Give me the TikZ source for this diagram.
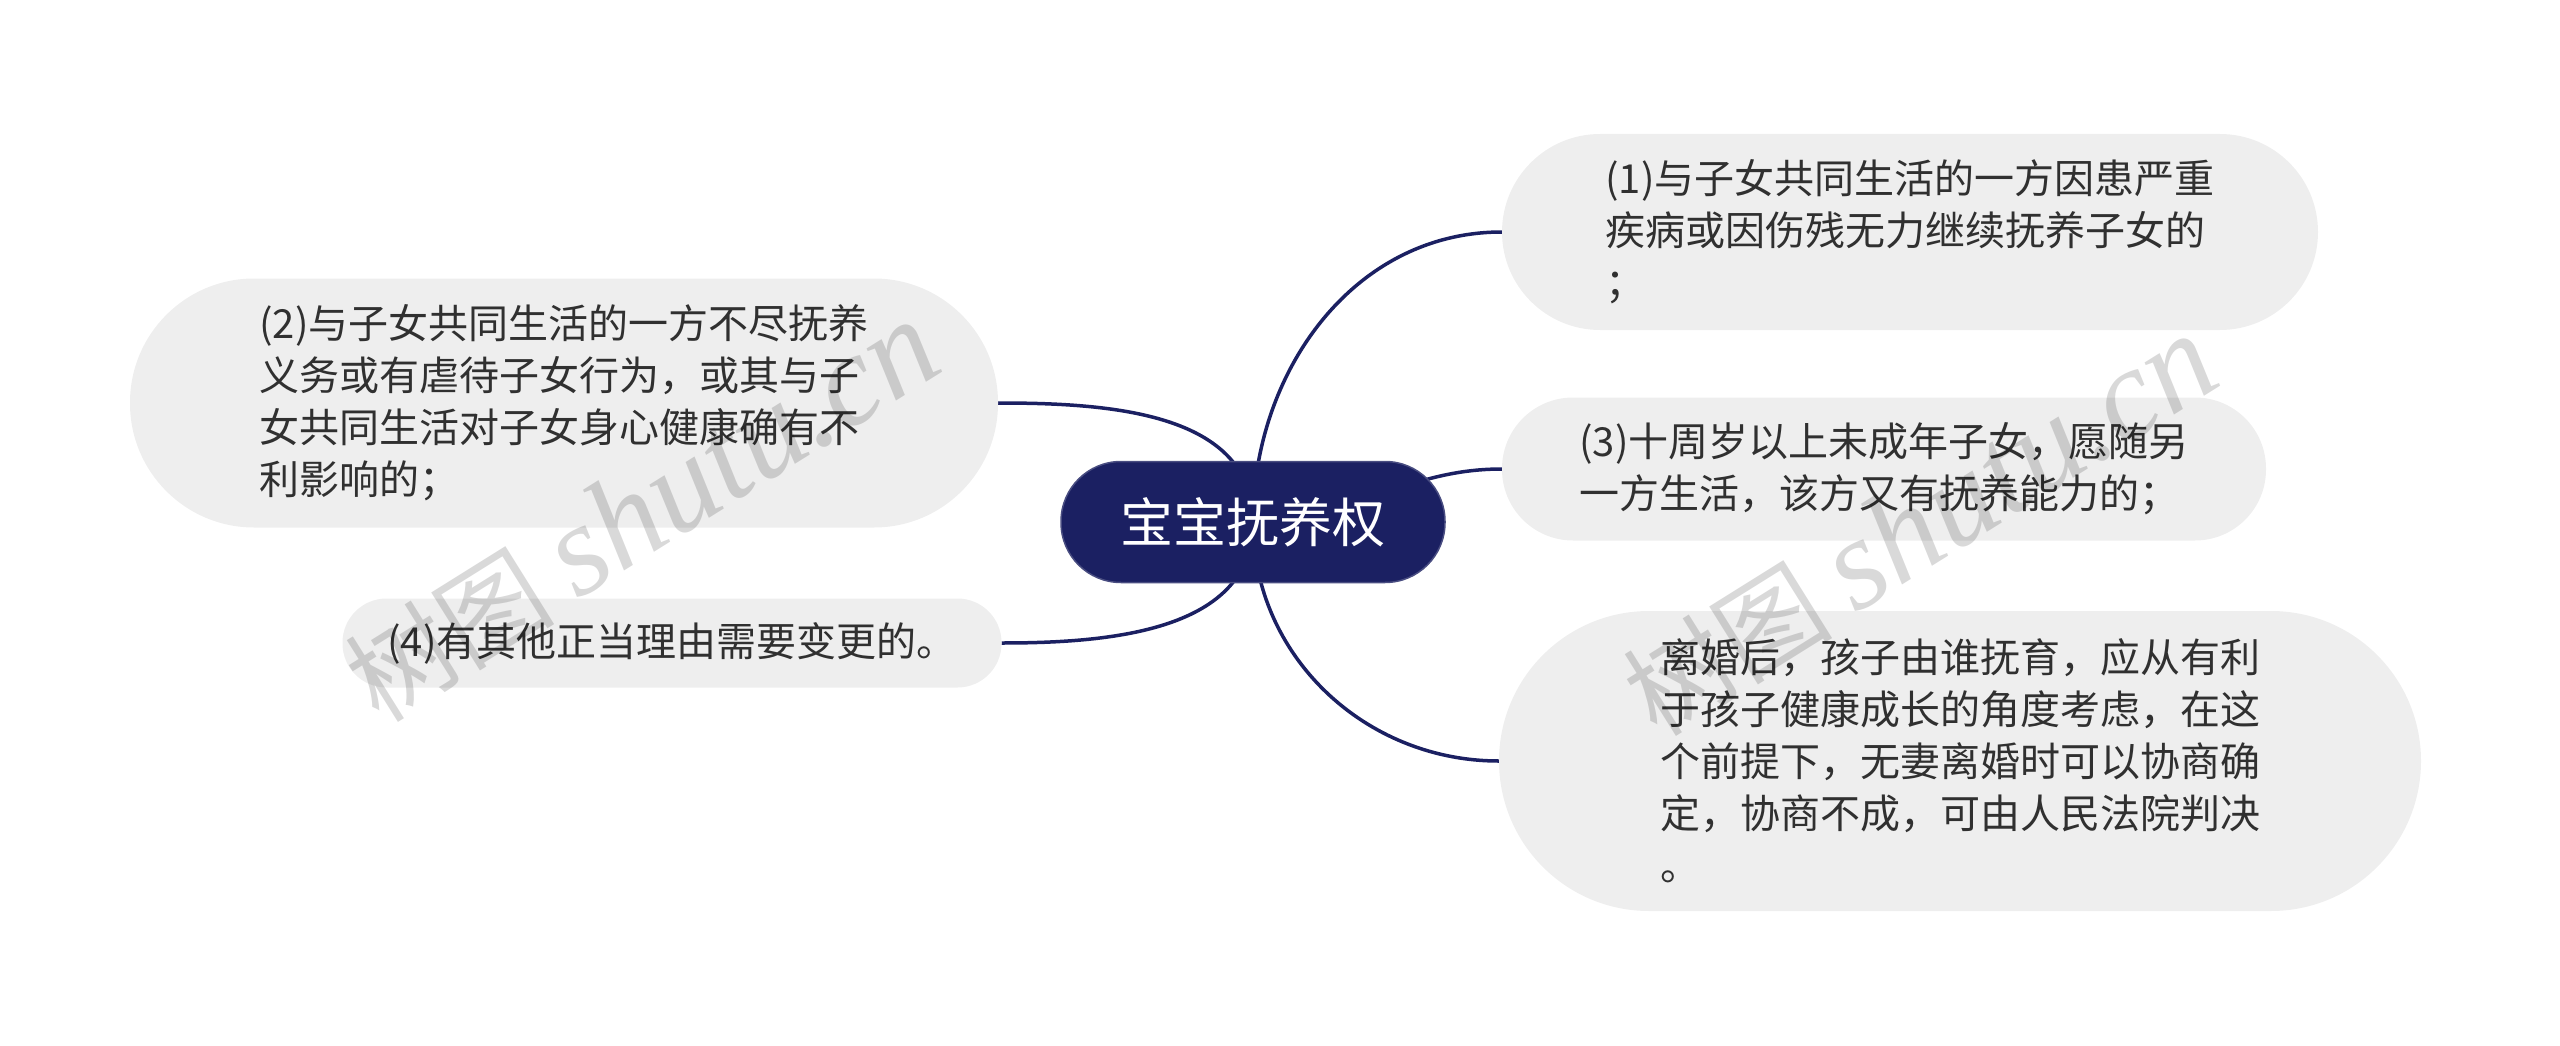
\documentclass[tikz,border=0pt]{standalone}
\usepackage{fontspec}
\setmainfont{Noto Sans CJK SC}
\newfontfamily\wmlatin{Liberation Serif}
\usepackage{tikz}
\usetikzlibrary{backgrounds}
\definecolor{navy}{HTML}{1B2062}
\definecolor{leafgray}{HTML}{EEEEEE}
\definecolor{inkgray}{HTML}{303030}

\begin{document}
\begin{tikzpicture}[x=1pt,y=-1pt,
  root/.style={fill=navy,draw=navy!80!white,line width=1.5pt,text=white,font=\fontsize{53}{60}\selectfont,
    minimum width=384pt,minimum height=121pt,rounded corners=60pt,inner sep=0pt},
  leaf/.style={fill=leafgray,text=inkgray,font=\fontsize{40}{52}\selectfont,align=left,inner sep=0pt},
  link/.style={draw=navy,line width=3.5pt},
  wmark/.style={text=black,text opacity=0.15,rotate=32,font=\fontsize{105}{105}\selectfont}]
\useasboundingbox (0,0) rectangle (2560,1046);
\node[root] (baby) at (1253,522) {宝宝抚养权};
\node[leaf,minimum width=816pt,minimum height=196pt,rounded corners=98pt] (ill) at (1910,232)
  {(1)与子女共同生活的一方因患严重\\疾病或因伤残无力继续抚养子女的\\；};
\node[leaf,minimum width=764pt,minimum height=143pt,rounded corners=71pt] (ten) at (1884,469)
  {(3)十周岁以上未成年子女，愿随另\\一方生活，该方又有抚养能力的；};
\node[leaf,minimum width=922pt,minimum height=300pt,rounded corners=150pt] (court) at (1960,761)
  {离婚后，孩子由谁抚育，应从有利\\于孩子健康成长的角度考虑，在这\\个前提下，无妻离婚时可以协商确\\定，协商不成，可由人民法院判决\\。};
\node[leaf,minimum width=868pt,minimum height=249pt,rounded corners=124pt] (duty) at (564,403)
  {(2)与子女共同生活的一方不尽抚养\\义务或有虐待子女行为，或其与子\\女共同生活对子女身心健康确有不\\利影响的；};
\node[leaf,minimum width=659pt,minimum height=89pt,rounded corners=44pt] (other) at (672,643)
  {(4)有其他正当理由需要变更的。};
\begin{scope}[on background layer]
  \draw[link] (baby.center) to[out=90,in=180] (ill.west);
  \draw[link] (baby.center) to[out=0,in=180] (ten.west);
  \draw[link] (baby.center) to[out=-90,in=180] (court.west);
  \draw[link] (baby.center) to[out=90,in=0] (duty.east);
  \draw[link] (baby.center) to[out=-90,in=0] (other.east);
\end{scope}
\node[wmark] (wmleft) at (642,512) {树图 {\wmlatin\itshape\fontsize{130}{130}\selectfont shutu.cn}};
\node[wmark] (wmright) at (1920,526) {树图 {\wmlatin\itshape\fontsize{130}{130}\selectfont shutu.cn}};
\end{tikzpicture}
\end{document}
